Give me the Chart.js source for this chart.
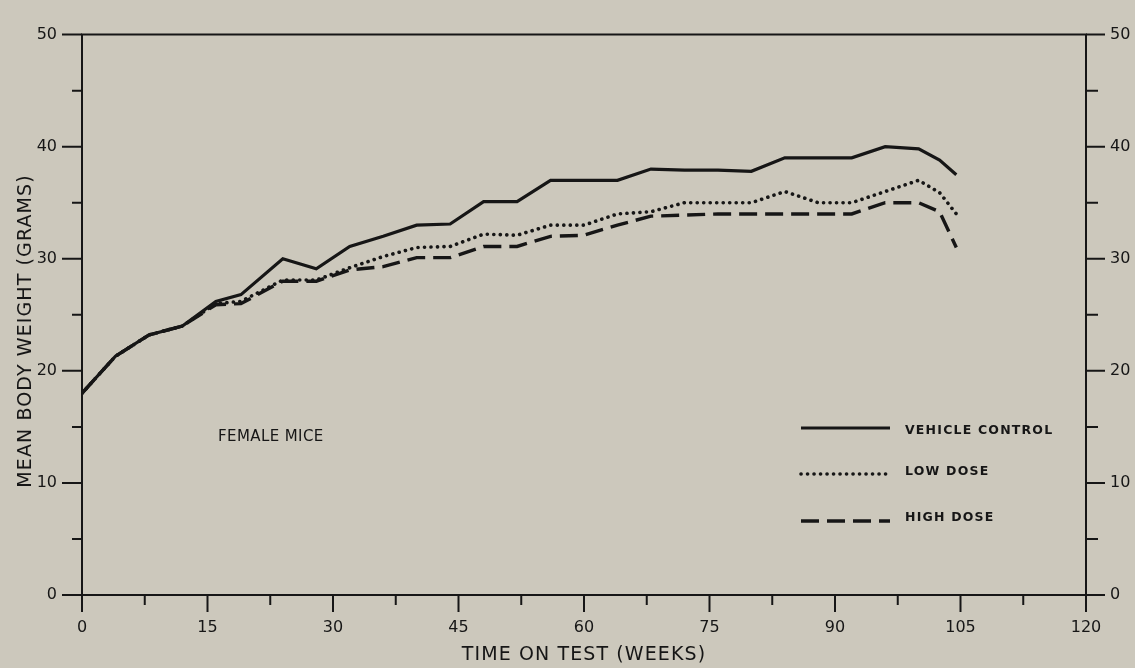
<!DOCTYPE html>
<html>
<head>
<meta charset="utf-8">
<script src="https://cdn.jsdelivr.net/npm/chart.js@4.4.1/dist/chart.umd.min.js"></script>
<style>
  html, body { margin: 0; padding: 0; background: #ccc8bc; }
  canvas { display: block; }
</style>
</head>
<body>
<canvas id="c" width="1135" height="668"></canvas>
<script>
// ---- data ----
const weeks = [0, 4, 8, 12, 16, 19, 24, 28, 32, 36, 40, 44, 48, 52, 56, 60, 64, 68, 72, 76, 80, 84, 88, 92, 96, 100, 102.5, 104.5];
const vehicleControl = [18, 21.3, 23.2, 24, 26.2, 26.8, 30, 29.1, 31.1, 32, 33, 33.1, 35.1, 35.1, 37, 37, 37, 38, 37.9, 37.9, 37.8, 39, 39, 39, 40, 39.8, 38.8, 37.5];
const lowDose = [18, 21.3, 23.2, 24, 26, 26.2, 28.1, 28.1, 29.2, 30.2, 31, 31.1, 32.2, 32.1, 33, 33, 34, 34.2, 35, 35, 35, 36, 35, 35, 36, 37, 35.9, 34];
const highDose = [18, 21.3, 23.2, 24, 25.9, 26, 28, 28, 29, 29.3, 30.1, 30.1, 31.1, 31.1, 32, 32.1, 33, 33.8, 33.9, 34, 34, 34, 34, 34, 35, 35, 34.2, 31];
const seriesLabels = ['VEHICLE CONTROL', 'LOW DOSE', 'HIGH DOSE'];
const xTickValues = [0, 15, 30, 45, 60, 75, 90, 105, 120];
const yTickValues = [0, 10, 20, 30, 40, 50];
const xTitle = 'TIME ON TEST (WEEKS)';
const yTitle = 'MEAN BODY WEIGHT (GRAMS)';
const annotationText = 'FEMALE MICE';

const INK = '#161616';
const FONT = '"DejaVu Sans", sans-serif';

function pts(vals) { return weeks.map((w, i) => ({ x: w, y: vals[i] })); }

const frame = {
  id: 'frame',
  beforeDraw(chart) {
    const ctx = chart.ctx;
    ctx.save();
    ctx.fillStyle = '#ccc8bc';
    ctx.fillRect(0, 0, chart.width, chart.height);
    ctx.restore();
  },
  afterDraw(chart) {
    const ctx = chart.ctx;
    const a = chart.chartArea;
    const xs = chart.scales.x, ys = chart.scales.y;
    ctx.save();
    ctx.strokeStyle = INK;
    ctx.lineWidth = 2;
    ctx.setLineDash([]);
    ctx.lineCap = 'butt';
    ctx.beginPath();
    ctx.rect(a.left, a.top, a.right - a.left, a.bottom - a.top);
    ctx.stroke();
    // y ticks both sides
    for (let v = 0; v <= 50; v += 5) {
      const py = ys.getPixelForValue(v);
      const major = v % 10 === 0;
      ctx.beginPath();
      ctx.moveTo(a.left - (major ? 20 : 10), py);
      ctx.lineTo(a.left, py);
      ctx.moveTo(a.right, py);
      ctx.lineTo(a.right + (major ? 19 : 12), py);
      ctx.stroke();
    }
    // x ticks
    for (let w = 0; w <= 120; w += 7.5) {
      const px = xs.getPixelForValue(w);
      const major = w % 15 === 0;
      ctx.beginPath();
      ctx.moveTo(px, a.bottom);
      ctx.lineTo(px, a.bottom + (major ? 17 : 10));
      ctx.stroke();
    }
    // axis titles
    ctx.fillStyle = INK;
    ctx.font = '19px ' + FONT;
    ctx.letterSpacing = '1.1px';
    ctx.textAlign = 'center';
    ctx.textBaseline = 'middle';
    ctx.fillText(xTitle, (a.left + a.right) / 2, 655);
    ctx.save();
    ctx.translate(26, 331);
    ctx.rotate(-Math.PI / 2);
    ctx.fillText(yTitle, 0, 0);
    ctx.restore();
    // annotation
    ctx.font = '15px ' + FONT;
    ctx.letterSpacing = '0.4px';
    ctx.textAlign = 'left';
    ctx.fillText(annotationText, 218, 437);
    // legend
    const legendY = [428, 474, 521];
    const textY = [431, 472, 518];
    chart.data.datasets.forEach((ds, i) => {
      ctx.save();
      ctx.strokeStyle = ds.borderColor;
      ctx.lineWidth = ds.borderWidth;
      ctx.setLineDash(ds.borderDash || []);
      ctx.lineCap = ds.borderCapStyle || 'butt';
      ctx.beginPath();
      ctx.moveTo(801, legendY[i]);
      ctx.lineTo(890, legendY[i]);
      ctx.stroke();
      ctx.restore();
      ctx.font = 'bold 12.5px ' + FONT;
      ctx.letterSpacing = '1.2px';
      ctx.fillStyle = INK;
      ctx.textAlign = 'left';
      ctx.textBaseline = 'middle';
      ctx.fillText(ds.label, 905, textY[i]);
    });
    ctx.restore();
  }
};

new Chart(document.getElementById('c'), {
  type: 'line',
  data: {
    datasets: [
      { label: seriesLabels[0], data: pts(vehicleControl), borderColor: INK, borderWidth: 3.2, borderDash: [], tension: 0, pointRadius: 0 },
      { label: seriesLabels[1], data: pts(lowDose), borderColor: INK, borderWidth: 3.6, borderDash: [0.1, 6.4], borderCapStyle: 'round', tension: 0, pointRadius: 0 },
      { label: seriesLabels[2], data: pts(highDose), borderColor: INK, borderWidth: 3.4, borderDash: [18, 8], tension: 0, pointRadius: 0 }
    ]
  },
  options: {
    responsive: false,
    animation: false,
    events: [],
    layout: { padding: { top: 19, left: 0, right: 0, bottom: 0 } },
    plugins: { legend: { display: false }, tooltip: { enabled: false }, title: { display: false } },
    scales: {
      x: {
        type: 'linear', min: 0, max: 120, position: 'bottom',
        afterBuildTicks: s => { s.ticks = xTickValues.map(v => ({ value: v })); },
        afterFit: s => { s.height = 73; },
        grid: { display: false, drawTicks: false },
        border: { display: false },
        ticks: { color: INK, font: { family: FONT, size: 16 }, padding: 23, maxRotation: 0, autoSkip: false }
      },
      y: {
        type: 'linear', min: 0, max: 50, position: 'left',
        afterBuildTicks: s => { s.ticks = yTickValues.map(v => ({ value: v })); },
        afterFit: s => { s.width = 82; },
        grid: { display: false, drawTicks: false },
        border: { display: false },
        ticks: { color: INK, font: { family: FONT, size: 16 }, padding: 25 }
      },
      y2: {
        type: 'linear', min: 0, max: 50, position: 'right',
        afterBuildTicks: s => { s.ticks = yTickValues.map(v => ({ value: v })); },
        afterFit: s => { s.width = 49; },
        grid: { display: false, drawTicks: false },
        border: { display: false },
        ticks: { color: INK, font: { family: FONT, size: 16 }, padding: 24 }
      }
    }
  },
  plugins: [frame]
});
</script>
</body>
</html>
